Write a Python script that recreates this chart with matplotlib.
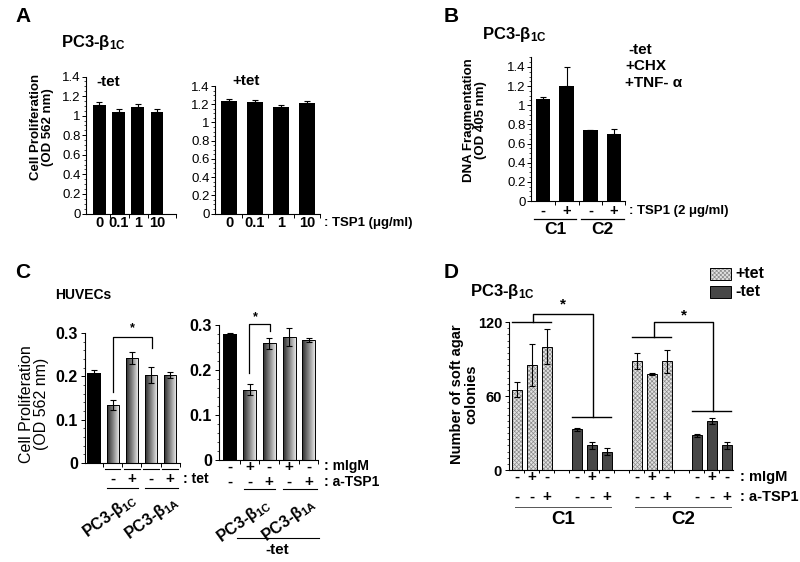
import numpy as np
import matplotlib
matplotlib.use('Agg')
import matplotlib.pyplot as plt
from matplotlib.colors import LinearSegmentedColormap
from matplotlib.patches import Rectangle
from matplotlib.transforms import blended_transform_factory
from matplotlib.ticker import MultipleLocator, FixedLocator, NullFormatter

plt.rcParams['font.family'] = ['Liberation Sans', 'DejaVu Sans']
plt.rcParams['mathtext.fontset'] = 'custom'
plt.rcParams['mathtext.rm'] = 'Liberation Sans'
plt.rcParams['mathtext.bf'] = 'Liberation Sans:bold'
plt.rcParams['mathtext.it'] = 'Liberation Sans:italic'
plt.rcParams['mathtext.default'] = 'regular'
plt.rcParams['hatch.linewidth'] = 0.5

# ---- data ----
a_doses = ['0', '0.1', '1', '10']
a_minus_tet = [1.11, 1.04, 1.09, 1.04]
a_minus_err = [0.025, 0.025, 0.025, 0.025]
a_plus_tet = [1.235, 1.225, 1.17, 1.215]
a_plus_err = [0.025, 0.025, 0.025, 0.025]

b_tsp1 = ['-', '+', '-', '+']
b_clones = ['C1', 'C2']
b_frag = [1.07, 1.20, 0.74, 0.705]
b_err = [0.012, 0.20, 0.0, 0.05]

c_left_vals = [0.208, 0.134, 0.242, 0.203, 0.203]
c_left_err = [0.006, 0.011, 0.014, 0.019, 0.007]
c_left_tet = ['', '-', '+', '-', '+']
c_right_vals = [0.281, 0.156, 0.259, 0.274, 0.267]
c_right_err = [0.002, 0.012, 0.013, 0.02, 0.004]
c_right_migm = ['-', '+', '-', '+', '-']
c_right_atsp1 = ['-', '-', '+', '-', '+']
c_lines = [r'PC3-$\beta_{\mathbf{1C}}$', r'PC3-$\beta_{\mathbf{1A}}$']

d_plus_c1 = [65, 85, 100]
d_plus_c1_err = [6, 17, 14]
d_minus_c1 = [33, 20, 15]
d_minus_c1_err = [1, 3, 3]
d_plus_c2 = [88, 78, 88]
d_plus_c2_err = [6.5, 1, 9.5]
d_minus_c2 = [28, 40, 20]
d_minus_c2_err = [1, 2.5, 3]
d_migm = ['-', '+', '-']
d_atsp1 = ['-', '-', '+']

W, H = 800, 562
fig = plt.figure(figsize=(8, 5.62), dpi=100)


def place(left, right, top, bottom):
    ax = fig.add_axes([left / W, 1 - bottom / H, (right - left) / W, (bottom - top) / H])
    for s in ['top', 'right']:
        ax.spines[s].set_visible(False)
    for s in ['left', 'bottom']:
        ax.spines[s].set_linewidth(0.8)
    ax.tick_params(which='major', length=3, width=0.7, direction='out')
    ax.tick_params(which='minor', length=1.5, width=0.5, direction='out')
    return ax


def ftext(x, y, s, **kw):
    kw.setdefault('ha', 'left')
    kw.setdefault('va', 'center')
    fig.text(x / W, 1 - y / H, s, **kw)


def xtext(ax, x, py, s, **kw):
    tr = blended_transform_factory(ax.transData, fig.transFigure)
    kw.setdefault('ha', 'center')
    kw.setdefault('va', 'center')
    ax.text(x, 1 - py / H, s, transform=tr, **kw)


def xline(ax, x0, x1, py, lw=0.8, color='k'):
    tr = blended_transform_factory(ax.transData, fig.transFigure)
    ax.plot([x0, x1], [1 - py / H] * 2, transform=tr, color=color, lw=lw, clip_on=False)


def cat_ticks(ax, bounds):
    ax.xaxis.set_major_locator(FixedLocator(bounds))
    ax.xaxis.set_major_formatter(NullFormatter())


def err(ax, x, y, e, up_only=False):
    e = np.asarray(e)
    yerr = [np.zeros_like(e), e] if up_only else e
    ax.errorbar(x, y, yerr=yerr, fmt='none', ecolor='k', elinewidth=0.8,
                capsize=2.2, capthick=0.8, zorder=5)


grad_cmap = LinearSegmentedColormap.from_list('g', ['#2a2a2a', '#8a8a8a', '#f4f4f4'])


def grad_bars(ax, x, h, w):
    grad = np.linspace(0, 1, 64).reshape(1, -1)
    for xi, hi in zip(x, h):
        r = Rectangle((xi - w / 2, 0), w, hi, facecolor='none', edgecolor='k', lw=0.7, zorder=3)
        ax.add_patch(r)
        im = ax.imshow(grad, extent=[xi - w / 2, xi + w / 2, 0, hi], aspect='auto',
                       cmap=grad_cmap, zorder=2, interpolation='bilinear')
        im.set_clip_path(r)


a_ticks = [0, 0.2, 0.4, 0.6, 0.8, 1.0, 1.2, 1.4]
a_labels = ['0', '0.2', '0.4', '0.6', '0.8', '1', '1.2', '1.4']

# ================= Panel A =================
ftext(15, 17, 'A', fontsize=15, fontweight='bold')
ftext(61, 42, c_lines[0], fontsize=12, fontweight='bold')
ftext(42, 127, 'Cell Proliferation\n(OD 562 nm)', rotation=90, ha='center',
      fontsize=9.5, fontweight='bold', linespacing=1.0)

xa = np.arange(4)
ax = place(86, 176, 76.5, 213.5)
ax.bar(xa, a_minus_tet, 0.66, color='k')
err(ax, xa, a_minus_tet, a_minus_err, up_only=True)
ax.set_xlim(-0.7, 4.0)
ax.set_ylim(0, 1.4)
ax.yaxis.set_major_locator(FixedLocator(a_ticks))
ax.set_yticklabels(a_labels)
ax.yaxis.set_minor_locator(MultipleLocator(0.05))
ax.tick_params(axis='y', labelsize=9.5, pad=1)
cat_ticks(ax, [0.55, 1.55, 2.55, 4.0])
for xi, s in zip(xa, a_doses):
    xtext(ax, xi, 223, s, fontsize=10.5, fontweight='bold')
ftext(96, 82, '-tet', fontsize=11, fontweight='bold')

ax = place(215, 320, 86, 213.5)
ax.bar(xa, a_plus_tet, 0.6, color='k')
err(ax, xa, a_plus_tet, a_plus_err, up_only=True)
ax.set_xlim(-0.54, 3.5)
ax.set_ylim(0, 1.4)
ax.yaxis.set_major_locator(FixedLocator(a_ticks))
ax.set_yticklabels(a_labels)
ax.yaxis.set_minor_locator(MultipleLocator(0.05))
ax.tick_params(axis='y', labelsize=9.5, pad=1)
cat_ticks(ax, [0.5, 1.5, 2.5, 3.5])
for xi, s in zip(xa, a_doses):
    xtext(ax, xi, 223, s, fontsize=10.5, fontweight='bold')
ftext(324, 223, ': TSP1 (\u03bcg/ml)', fontsize=9.5, fontweight='bold')
ftext(232, 81, '+tet', fontsize=11, fontweight='bold')

# ================= Panel B =================
ftext(444, 17, 'B', fontsize=15, fontweight='bold')
ftext(482, 35, c_lines[0], fontsize=12, fontweight='bold')
ftext(475, 120, 'DNA Fragmentation\n(OD 405 nm)', rotation=90, ha='center',
      fontsize=9.5, fontweight='bold', linespacing=1.0)
ftext(628, 50, '-tet', fontsize=11, fontweight='bold')
ftext(625, 66, '+CHX', fontsize=11, fontweight='bold')
ftext(625, 83, '+TNF- \u03b1', fontsize=11, fontweight='bold')

xb = np.arange(4)
ax = place(531, 625, 57.4, 201)
ax.bar(xb, b_frag, 0.62, color='k')
err(ax, xb, b_frag, b_err, up_only=True)
ax.set_xlim(-0.51, 3.46)
ax.set_ylim(0, 1.5)
ax.yaxis.set_major_locator(FixedLocator(a_ticks))
ax.set_yticklabels(a_labels)
ax.yaxis.set_minor_locator(MultipleLocator(0.05))
ax.tick_params(axis='y', labelsize=9.5, pad=1)
cat_ticks(ax, [0.5, 1.5, 2.5, 3.46])
for xi, s in zip(xb, b_tsp1):
    xtext(ax, xi, 211, s, fontsize=10.5, fontweight='bold')
ftext(629, 211, ': TSP1 (2 \u03bcg/ml)', fontsize=9.5, fontweight='bold')
for k, name in enumerate(b_clones):
    xline(ax, 2 * k - 0.4, 2 * k + 1.4, 219, lw=0.9)
    xtext(ax, 2 * k + 0.5, 230, name, fontsize=12.5, fontweight='bold')

# ================= Panel C =================
ftext(15, 272, 'C', fontsize=15, fontweight='bold')
ftext(55, 295, 'HUVECs', fontsize=10, fontweight='bold')
ftext(34, 404, 'Cell Proliferation\n(OD 562 nm)', rotation=90, ha='center',
      fontsize=11.5, linespacing=1.05)

xc = np.arange(5)
ax = place(85, 180, 333, 463)
ax.bar(xc[:1], c_left_vals[:1], 0.76, color='k')
grad_bars(ax, xc[1:], c_left_vals[1:], 0.65)
err(ax, xc, c_left_vals, c_left_err)
ax.set_xlim(-0.46, 4.52)
ax.set_ylim(0, 0.3)
ax.yaxis.set_major_locator(FixedLocator([0, 0.1, 0.2, 0.3]))
ax.set_yticklabels(['0', '0.1', '0.2', '0.3'], fontweight='bold')
ax.yaxis.set_minor_locator(MultipleLocator(0.02))
ax.tick_params(axis='y', labelsize=11.5, pad=2)
cat_ticks(ax, [0.5, 1.5, 2.5, 3.5, 4.52])
for xi, s in zip(xc, c_left_tet):
    if s:
        xline(ax, xi - 0.4, xi + 0.4, 469, lw=0.8)
        xtext(ax, xi, 479, s, fontsize=11, fontweight='bold')
ftext(183, 479, ': tet', fontsize=10, fontweight='bold')
xline(ax, 0.7, 2.3, 488)
xline(ax, 2.7, 4.4, 488)
ax.plot([1, 1, 3.05, 3.05], [0.164, 0.291, 0.291, 0.265], color='k', lw=0.9, clip_on=False)
ax.text(2.0, 0.31, '*', ha='center', va='center', fontsize=9, fontweight='bold')
ftext(129, 490, c_lines[0], rotation=36, rotation_mode='anchor', ha='right', va='top',
      fontsize=11.5, fontweight='bold')
ftext(171, 492, c_lines[1], rotation=36, rotation_mode='anchor', ha='right', va='top',
      fontsize=11.5, fontweight='bold')

ax = place(219, 318, 325, 460)
ax.bar(xc[:1], c_right_vals[:1], 0.72, color='k')
grad_bars(ax, xc[1:], c_right_vals[1:], 0.66)
err(ax, xc, c_right_vals, c_right_err)
ax.set_xlim(-0.55, 4.47)
ax.set_ylim(0, 0.3)
ax.yaxis.set_major_locator(FixedLocator([0, 0.1, 0.2, 0.3]))
ax.set_yticklabels(['0', '0.1', '0.2', '0.3'], fontweight='bold')
ax.yaxis.set_minor_locator(MultipleLocator(0.02))
ax.tick_params(axis='y', labelsize=11.5, pad=2)
cat_ticks(ax, [0.5, 1.5, 2.5, 3.5, 4.47])
for xi, s in zip(xc, c_right_migm):
    xtext(ax, xi, 467, s, fontsize=11, fontweight='bold')
for xi, s in zip(xc, c_right_atsp1):
    xtext(ax, xi, 482, s, fontsize=11, fontweight='bold')
ftext(324, 466, ': mIgM', fontsize=10, fontweight='bold')
ftext(324, 482, ': a-TSP1', fontsize=10, fontweight='bold')
xline(ax, 0.7, 2.3, 489)
xline(ax, 2.7, 4.4, 489)
ax.plot([0.96, 0.96, 2.03, 2.03], [0.193, 0.302, 0.302, 0.287], color='k', lw=0.9, clip_on=False)
ax.text(1.3, 0.318, '*', ha='center', va='center', fontsize=9, fontweight='bold')
ftext(263, 495, c_lines[0], rotation=36, rotation_mode='anchor', ha='right', va='top',
      fontsize=11.5, fontweight='bold')
ftext(308, 494, c_lines[1], rotation=36, rotation_mode='anchor', ha='right', va='top',
      fontsize=11.5, fontweight='bold')
xline(ax, 0.35, 4.5, 538)
xtext(ax, 2.4, 550, '-tet', fontsize=11, fontweight='bold')

# ================= Panel D =================
ftext(444, 272, 'D', fontsize=15, fontweight='bold')
ftext(470, 291, c_lines[0], fontsize=12, fontweight='bold')
ftext(464, 394, 'Number of soft agar\ncolonies', rotation=90, ha='center',
      fontsize=10.5, fontweight='bold', linespacing=1.05)

ax = place(509, 733, 322, 470)
hatch_face, hatch_col, dark = '#e2e2e2', '#8c8c8c', '#474747'
groups = [(0, d_plus_c1, d_plus_c1_err, True), (4, d_minus_c1, d_minus_c1_err, False),
          (8, d_plus_c2, d_plus_c2_err, True), (12, d_minus_c2, d_minus_c2_err, False)]
for start, vals, errs, plus in groups:
    xs = start + np.arange(3)
    if plus:
        ax.bar(xs, vals, 0.66, facecolor=hatch_face, edgecolor=hatch_col, hatch='xxxxxxxx', lw=0)
        ax.bar(xs, vals, 0.66, fill=False, edgecolor='k', lw=0.7)
    else:
        ax.bar(xs, vals, 0.66, color=dark, edgecolor='k', lw=0.7)
    err(ax, xs, vals, errs)
    for xi, s in zip(xs, d_migm):
        xtext(ax, xi, 477, s, fontsize=11, fontweight='bold')
    for xi, s in zip(xs, d_atsp1):
        xtext(ax, xi, 497, s, fontsize=11, fontweight='bold')
ax.set_xlim(-0.53, 14.4)
ax.set_ylim(0, 120)
ax.yaxis.set_major_locator(FixedLocator([0, 60, 120]))
ax.set_yticklabels(['0', '60', '120'], fontweight='bold')
ax.yaxis.set_minor_locator(MultipleLocator(5))
ax.tick_params(axis='y', labelsize=10.5, pad=2)
cat_ticks(ax, np.arange(0.5, 14.5, 1.0))
ax.tick_params(axis='x', which='major', length=2)
ftext(740, 477, ': mIgM', fontsize=10.5, fontweight='bold')
ftext(740, 497, ': a-TSP1', fontsize=10.5, fontweight='bold')
for k, name in enumerate(['C1', 'C2']):
    xline(ax, 8 * k - 0.15, 8 * k + 6.3, 507, lw=0.7, color='#555555')
    xtext(ax, 8 * k + 3.05, 520, name, fontsize=13.5, fontweight='bold')

# significance brackets
for start in (0, 8):
    ax.plot([start - 0.3, start + 2.3], [120 if start == 0 else 108] * 2, color='k', lw=1.0, clip_on=False)
    ax.plot([start + 3.7, start + 6.3], [43 if start == 0 else 48] * 2, color='k', lw=1.0, clip_on=False)
ax.plot([1.07, 1.07, 5.07, 5.07], [120, 126.5, 126.5, 43], color='k', lw=1.0, clip_on=False)
ax.plot([9.13, 9.13, 13.07, 13.07], [108, 120, 120, 48], color='k', lw=1.0, clip_on=False)
ax.text(3.07, 134, '*', ha='center', va='center', fontsize=11, fontweight='bold', clip_on=False)
ax.text(11.13, 125, '*', ha='center', va='center', fontsize=11, fontweight='bold', clip_on=False)

# legend boxes
fig.add_artist(Rectangle((710 / W, 1 - 280 / H), 21 / W, 12 / H, facecolor=hatch_face,
                         edgecolor=hatch_col, hatch='xxxxxxxx', lw=0, transform=fig.transFigure))
fig.add_artist(Rectangle((710 / W, 1 - 280 / H), 21 / W, 12 / H, fill=False,
                         edgecolor='k', lw=0.7, transform=fig.transFigure))
fig.add_artist(Rectangle((710 / W, 1 - 298 / H), 21 / W, 12 / H, facecolor=dark,
                         edgecolor='k', lw=0.7, transform=fig.transFigure))
ftext(735, 274, '+tet', fontsize=11.5, fontweight='bold')
ftext(735, 292, '-tet', fontsize=11.5, fontweight='bold')

fig.savefig('out.png', dpi=100)
